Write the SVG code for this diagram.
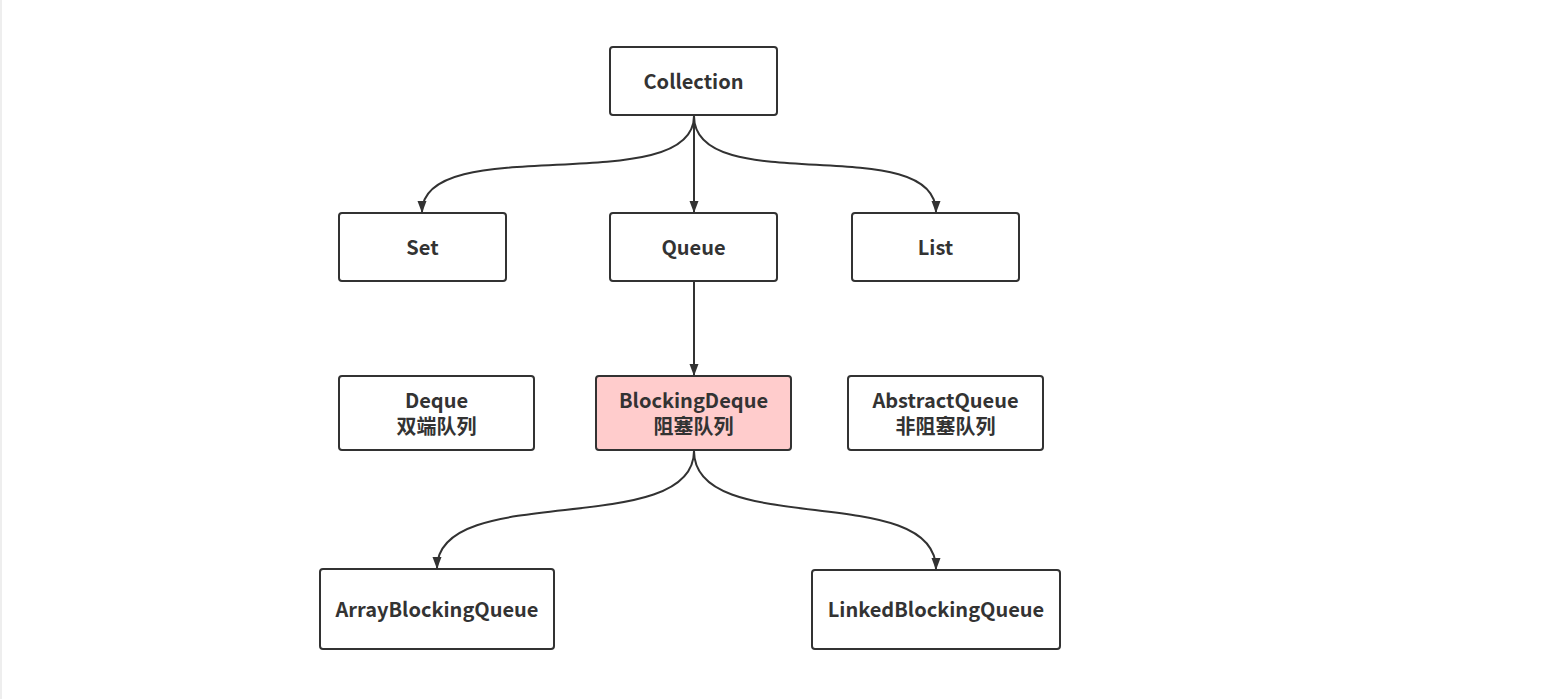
<svg xmlns="http://www.w3.org/2000/svg" width="1566" height="699" viewBox="0 0 1566 699">
<defs>
<style>
.n rect{fill:#fff;stroke:#323232;stroke-width:2}
.n.hl rect{fill:#ffcccc}
.n text{font-family:"Noto Sans CJK SC","Noto Sans",sans-serif;font-weight:bold;font-size:20px;fill:#333;text-anchor:middle}
.e path{fill:none;stroke:#323232;stroke-width:2}
</style>
<marker id="ah" markerWidth="12" markerHeight="10" viewBox="0 0 12 10" refX="11" refY="5" orient="auto" markerUnits="userSpaceOnUse">
<path d="M0,0.5 L12,5 L0,9.5 Z" fill="#323232"/>
</marker>
</defs>
<rect width="1566" height="699" fill="#fff"/>
<rect x="0" y="0" width="2" height="699" fill="#eeeeee"/>
<g id="connectors" class="e">
<path d="M694,116 C694,200 422,130 422,212" marker-end="url(#ah)"/>
<path d="M694,116 L694,212" marker-end="url(#ah)"/>
<path d="M694,116 C694,200 936,130 936,212" marker-end="url(#ah)"/>
<path d="M694,282 L694,375" marker-end="url(#ah)"/>
<path d="M694,451 C694,540 437,480 437,568" marker-end="url(#ah)"/>
<path d="M694,451 C694,540 936,480 936,569" marker-end="url(#ah)"/>
</g>
<g id="collection" class="n"><rect x="610" y="47" width="167" height="68" rx="3"/><text x="693.5" y="89">Collection</text></g>
<g id="set" class="n"><rect x="339" y="213" width="167" height="68" rx="3"/><text x="422.5" y="255">Set</text></g>
<g id="queue" class="n"><rect x="610" y="213" width="167" height="68" rx="3"/><text x="693.5" y="255">Queue</text></g>
<g id="list" class="n"><rect x="852" y="213" width="167" height="68" rx="3"/><text x="935.5" y="255">List</text></g>
<g id="deque" class="n"><rect x="339" y="376" width="195" height="74" rx="3"/><text x="436.5" y="408">Deque</text><text x="436.5" y="434">双端队列</text></g>
<g id="blockingdeque" class="n hl"><rect x="596" y="376" width="195" height="74" rx="3"/><text x="693.5" y="408">BlockingDeque</text><text x="693.5" y="434">阻塞队列</text></g>
<g id="abstractqueue" class="n"><rect x="848" y="376" width="195" height="74" rx="3"/><text x="945.5" y="408">AbstractQueue</text><text x="945.5" y="434">非阻塞队列</text></g>
<g id="arrayblockingqueue" class="n"><rect x="320" y="569" width="234" height="80" rx="3"/><text x="437" y="617">ArrayBlockingQueue</text></g>
<g id="linkedblockingqueue" class="n"><rect x="812" y="570" width="248" height="79" rx="3"/><text x="936" y="617">LinkedBlockingQueue</text></g>
</svg>
